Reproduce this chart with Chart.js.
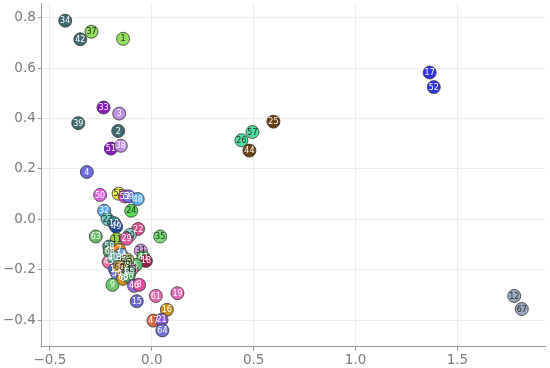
<!DOCTYPE html>
<html>
<head>
<meta charset="utf-8">
<script src="https://cdn.jsdelivr.net/npm/chart.js@4/dist/chart.umd.min.js"></script>
<style>
  html, body { margin: 0; padding: 0; background: #fff; }
</style>
</head>
<body>
<canvas id="chart" width="550" height="368"></canvas>
<script>
// point ids, coordinates
const ids   = [34, 37, 42, 1, 33, 3, 39, 2, 51, 38, 4, 50, 55, 53, 59, 48, 24, 32, 27, 10, 49, 22, 35, 63, 20, 11, 29,
               58, 68, 7, 36, 31, 41, 18, 5, 45, 13, 62, 14, 23, 40, 43, 54, 56, 60, 65, 66, 9, 6, 30, 46, 8, 15, 61, 19, 16,
               47, 21, 64, 25, 57, 26, 44, 17, 52, 12, 67];
const xVals = [-0.425, -0.296, -0.351, -0.141, -0.237, -0.160, -0.361, -0.165, -0.201, -0.152, -0.319, -0.254, -0.163, -0.132, -0.113, -0.069, -0.101, -0.234, -0.217, -0.185, -0.175, -0.067, 0.041, -0.275, -0.108, -0.172, -0.124,
               -0.209, -0.206, -0.160, -0.147, -0.054, -0.041, -0.029, -0.078, -0.212, -0.180, -0.136, -0.150, -0.120, -0.190, -0.100, -0.170, -0.130, -0.160, -0.110, -0.140, -0.193, -0.141, -0.114, -0.087, -0.062, -0.074, 0.020, 0.126, 0.074,
               0.008, 0.048, 0.052, 0.597, 0.494, 0.440, 0.479, 1.364, 1.384, 1.779, 1.816];
const yVals = [0.789, 0.745, 0.715, 0.717, 0.444, 0.420, 0.382, 0.351, 0.281, 0.292, 0.188, 0.097, 0.102, 0.091, 0.091, 0.081, 0.034, 0.034, 0.001, -0.015, -0.029, -0.038, -0.068, -0.068, -0.062, -0.079, -0.077,
               -0.108, -0.129, -0.121, -0.150, -0.124, -0.150, -0.165, -0.181, -0.169, -0.199, -0.185, -0.140, -0.160, -0.150, -0.200, -0.215, -0.170, -0.190, -0.210, -0.230, -0.260, -0.236, -0.227, -0.264, -0.260, -0.325, -0.304, -0.293, -0.359,
               -0.402, -0.399, -0.441, 0.388, 0.347, 0.314, 0.273, 0.583, 0.525, -0.304, -0.356];
const xTicks = [-0.5, 0, 0.5, 1, 1.5];
const yTicks = [-0.4, -0.2, 0, 0.2, 0.4, 0.6, 0.8];

// fill colour of each point (same order as ids)
const pointColors = ['#3f6b70', '#8ee05a', '#3f6b70', '#8ee05a', '#8a18c8', '#c08ee0', '#3f6b70', '#3f6b70', '#8a18c8', '#c08ee0', '#6c6ce0', '#e060e8', '#e8e84a', '#e040d8', '#7474e4', '#5aacf0', '#5ade5a', '#5aa8e8', '#70c8c0', '#3a8a9a', '#1e4a9a', '#d8508a', '#78dc78', '#66bb66', '#8cd8d0', '#9ad24a', '#e858a8',
                     '#4a8a7a', '#5a9a6a', '#e8861a', '#4a8a90', '#d0a0e0', '#6ad06a', '#9a1a4a', '#58c070', '#e868a0', '#3a6ae0', '#4a6ae8', '#70a0d0', '#c8e070', '#60a090', '#e090c0', '#8080d8', '#b0d890', '#e0a040', '#50b080', '#a070d0', '#6ac86a', '#d89020', '#4a9a5a', '#9a6ad8', '#e050a0', '#6a6ad0', '#e86ab0', '#e868b8', '#c8901a',
                     '#e06a40', '#8a5ad8', '#7070d8', '#6b3f10', '#50e0a0', '#50e0a0', '#6b3f10', '#3333ee', '#3333ee', '#9aaac0', '#9aaac0'];

const pointLabels = {
  id: 'pointLabels',
  afterDatasetsDraw(chart) {
    const ctx = chart.ctx;
    const meta = chart.getDatasetMeta(0);
    ctx.save();
    ctx.font = '8px "DejaVu Sans"';
    ctx.textAlign = 'center';
    ctx.textBaseline = 'middle';
    meta.data.forEach((pt, i) => {
      const c = pointColors[i];
      const r = parseInt(c.slice(1, 3), 16), g = parseInt(c.slice(3, 5), 16), b = parseInt(c.slice(5, 7), 16);
      const lum = 0.299 * r + 0.587 * g + 0.114 * b;
      ctx.fillStyle = lum > 167 ? '#2a2a2a' : '#ffffff';
      ctx.fillText(String(ids[i]), pt.x, pt.y + 0.5);
    });
    ctx.restore();
  }
};

const fmt = v => (Math.round(v * 10) / 10).toFixed(1).replace('-', '\u2212');

new Chart(document.getElementById('chart'), {
  type: 'scatter',
  data: {
    datasets: [{
      data: xVals.map((x, i) => ({ x: x, y: yVals[i] })),
      backgroundColor: pointColors,
      borderColor: '#333333',
      borderWidth: 0.8,
      pointRadius: 6.5,
      pointHoverRadius: 6.5
    }]
  },
  options: {
    responsive: false,
    animation: false,
    layout: { autoPadding: false, padding: { top: 3, right: 5, bottom: 0, left: 1 } },
    plugins: { legend: { display: false }, tooltip: { enabled: false } },
    scales: {
      x: {
        type: 'linear',
        min: -0.54,
        max: 1.93,
        afterBuildTicks: axis => { axis.ticks = xTicks.map(v => ({ value: v })); },
        afterFit: axis => { axis.height -= 3; },
        grid: { color: '#ebebeb', tickColor: '#999', tickLength: 4 },
        border: { color: '#999' },
        ticks: { color: '#7a7a7a', font: { family: 'DejaVu Sans', size: 13.5 }, padding: 2, callback: v => fmt(v) }
      },
      y: {
        type: 'linear',
        min: -0.506,
        max: 0.859,
        afterBuildTicks: axis => { axis.ticks = yTicks.map(v => ({ value: v })); },
        afterFit: axis => { axis.paddingTop = 0; axis.paddingBottom = 0; },
        grid: { color: '#ebebeb', tickColor: '#999', tickLength: 4 },
        border: { color: '#999' },
        ticks: { color: '#7a7a7a', font: { family: 'DejaVu Sans', size: 13.5 }, padding: 2, callback: v => fmt(v) }
      }
    }
  },
  plugins: [pointLabels]
});
</script>
</body>
</html>
